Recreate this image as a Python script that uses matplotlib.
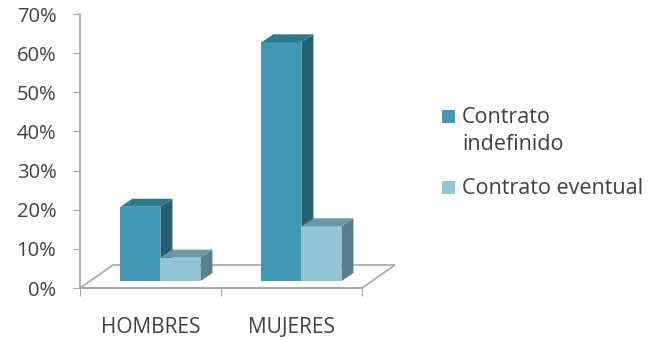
import matplotlib.pyplot as plt
import numpy as np
from matplotlib.patches import Polygon, Rectangle

plt.rcParams['font.family'] = ['Open Sans', 'DejaVu Sans']

categories = ["HOMBRES", "MUJERES"]
indefinido = np.array([0.19, 0.61])
eventual = np.array([0.06, 0.14])
series_names = ["Contrato\nindefinido", "Contrato eventual"]
yticks = np.arange(0, 0.71, 0.1)

front_cols = ["#4299b3", "#92c5d8"]
side_cols = ["#25606f", "#587f8d"]
top_cols = ["#2f7a8e", "#6a99a6"]
gray = "#a6a6a6"
txt = "#404040"

fig = plt.figure(figsize=(6.59, 3.41), dpi=100)
ax = fig.add_axes([80/659, 53/341, 282/659, 274/341])
ax.set_xlim(0, 2)
ax.set_ylim(0, 0.7)

# pixel -> data unit helpers for the fake 3d depth
px_x = 2 / 282
px_y = 0.7 / 274
floor_dx, floor_dy = 33 * px_x, 23 * px_y
bar_dx, bar_dy = 12 * px_x, 8 * px_y
base_frac = 0.3
base_x, base_y = base_frac * floor_dx, base_frac * floor_dy
w = 0.284

# floor
floor = Polygon([(0, 0), (2, 0), (2 + floor_dx, floor_dy), (floor_dx, floor_dy)],
                closed=True, fill=False, edgecolor=gray, lw=1.2, clip_on=False, zorder=1)
ax.add_patch(floor)

x = np.arange(len(categories)) + 0.5 + base_x
for i, (vals, off) in enumerate([(indefinido, -w / 2), (eventual, w / 2)]):
    xs = x + off
    ax.bar(xs, vals, width=w, bottom=base_y, color=front_cols[i], zorder=3 + i)
    for xc, v in zip(xs, vals):
        l, r = xc - w / 2, xc + w / 2
        b, t = base_y, base_y + v
        side = Polygon([(r, b), (r + bar_dx, b + bar_dy), (r + bar_dx, t + bar_dy), (r, t)],
                       closed=True, facecolor=side_cols[i], edgecolor='none', zorder=3 + i, clip_on=False)
        top = Polygon([(l, t), (r, t), (r + bar_dx, t + bar_dy), (l + bar_dx, t + bar_dy)],
                      closed=True, facecolor=top_cols[i], edgecolor='none', zorder=3 + i, clip_on=False)
        ax.add_patch(side)
        ax.add_patch(top)

for s in ['top', 'right']:
    ax.spines[s].set_visible(False)
for s in ['left', 'bottom']:
    ax.spines[s].set_color(gray)
    ax.spines[s].set_linewidth(1.2)

ax.set_yticks(yticks)
ax.set_yticklabels([f"{int(round(t * 100))}%" for t in yticks], fontsize=14.5, color=txt)
ax.tick_params(axis='y', length=5, color=gray, pad=12)

ax.set_xticks([0, 1, 2])
ax.set_xticklabels([])
ax.tick_params(axis='x', which='major', length=6, color=gray)
ax.set_xticks([0.5, 1.5], minor=True)
ax.set_xticklabels(categories, minor=True, fontsize=15, color=txt)
ax.tick_params(axis='x', which='minor', length=0, pad=21)

# legend, drawn by hand so the square sits on the first text line
leg_y = [1 - 117/341, 1 - 188/341]
for c, name, yy in zip(front_cols, series_names, leg_y):
    fig.patches.append(Rectangle((442/659, yy - 6.5/341), 13/659, 13/341,
                                 facecolor=c, transform=fig.transFigure, figure=fig))
    fig.text(462/659, yy + 10/341, name, fontsize=15.5, color=txt, va='top', ha='left',
             linespacing=1.35)

fig.savefig("out.png", dpi=100)
